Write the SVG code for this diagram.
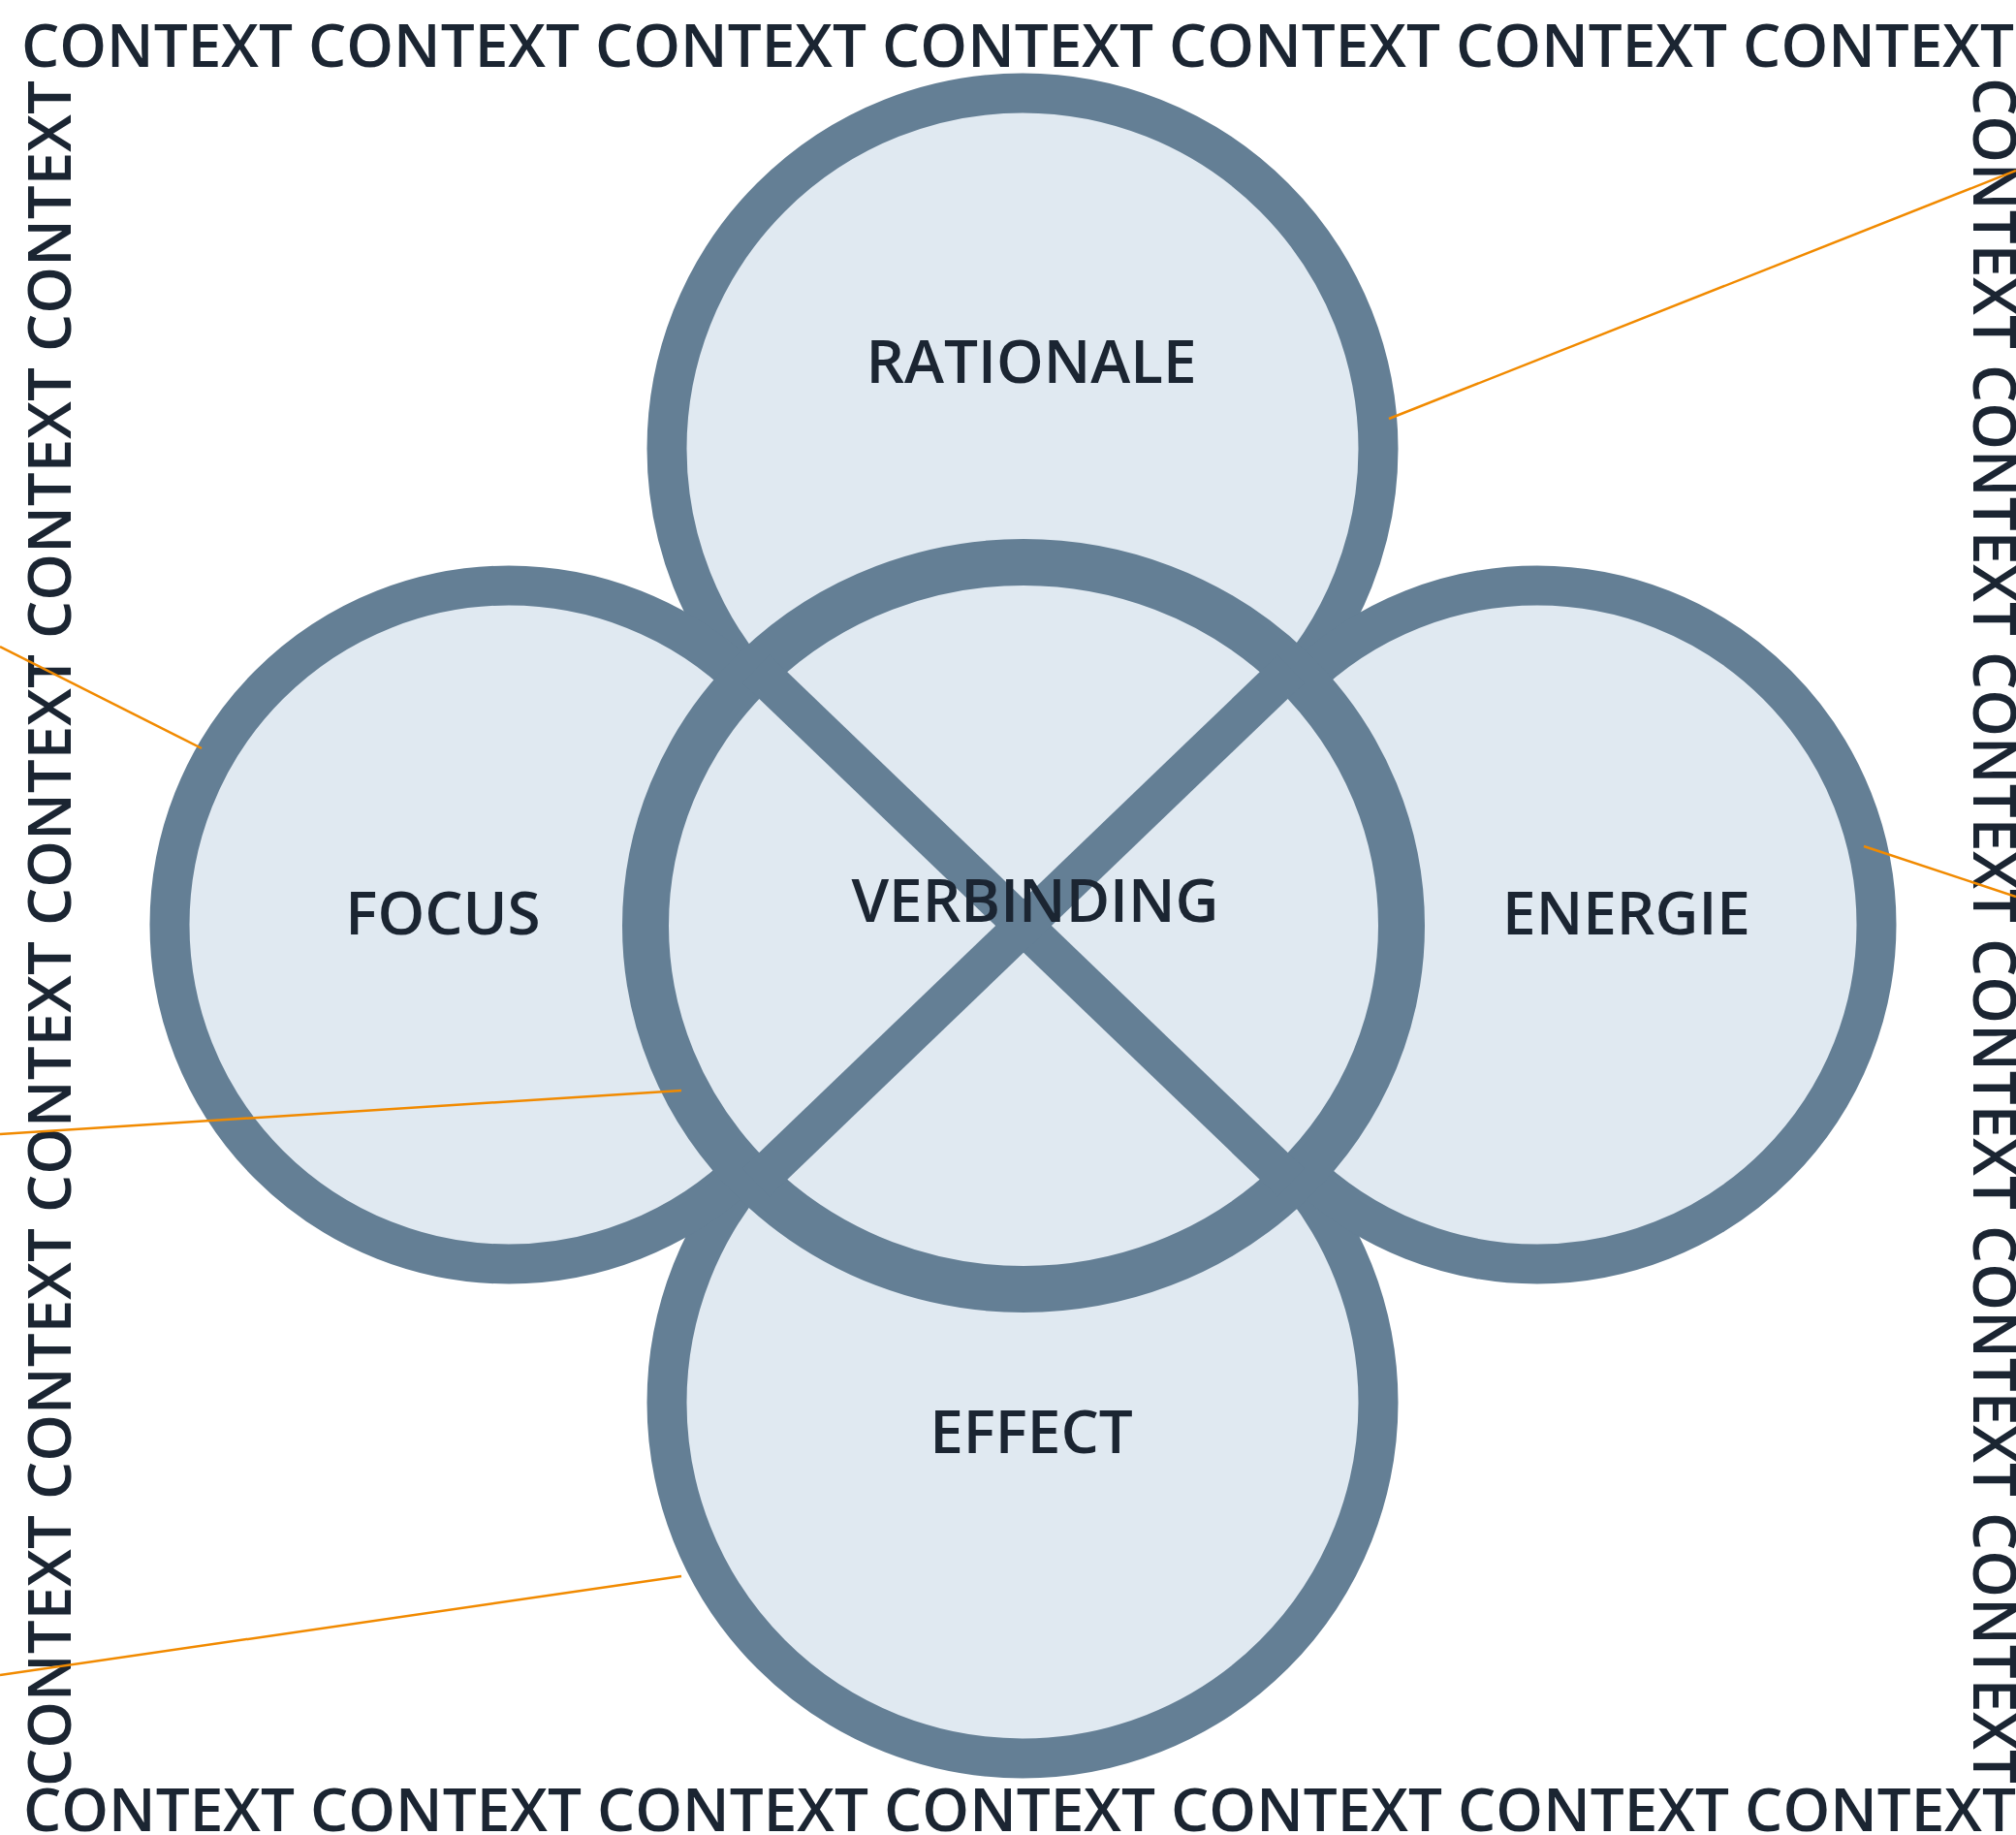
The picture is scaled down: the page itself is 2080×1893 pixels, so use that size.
<svg xmlns="http://www.w3.org/2000/svg" width="2080" height="1893" viewBox="0 0 2080 1893">
<style>
.ring{fill:#e0e9f1;stroke:#647f95;stroke-width:41}
.core{fill:#e0e9f1;stroke:#647f95;stroke-width:48}
.x{stroke:#647f95;stroke-width:40;stroke-linecap:butt;fill:none}
.lbl{font-family:"Open Sans","Noto Sans",sans-serif;font-weight:600;font-size:62px;fill:#1b2532;text-anchor:middle}
.ctx{font-family:"Open Sans","Noto Sans",sans-serif;font-weight:600;font-size:62px;fill:#1b2532}
.ln{stroke:#f18a00;stroke-width:2.5;fill:none}
</style>
<rect width="2080" height="1893" fill="#ffffff"/>
<g id="border">
<text class="ctx" x="22" y="69">CONTEXT CONTEXT CONTEXT CONTEXT CONTEXT CONTEXT CONTEXT</text>
<text class="ctx" x="24" y="1889">CONTEXT CONTEXT CONTEXT CONTEXT CONTEXT CONTEXT CONTEXT</text>
<text class="ctx" transform="translate(73,1843) rotate(-90)">CONTEXT CONTEXT CONTEXT CONTEXT CONTEXT CONTEXT</text>
<text class="ctx" transform="translate(2036,80) rotate(90)">CONTEXT CONTEXT CONTEXT CONTEXT CONTEXT CONTEXT</text>
</g>
<g id="rationale"><circle class="ring" cx="1055" cy="463" r="367"/></g>
<g id="effect"><circle class="ring" cx="1055" cy="1447" r="367"/></g>
<g id="focus"><circle class="ring" cx="525" cy="954" r="350"/></g>
<g id="energie"><circle class="ring" cx="1586" cy="954" r="350"/></g>
<g id="verbinding">
<ellipse class="core" cx="1056" cy="955" rx="390" ry="375"/>
<line class="x" x1="780" y1="690" x2="1332" y2="1220"/>
<line class="x" x1="1332" y1="690" x2="780" y2="1220"/>
</g>
<g id="labels">
<text class="lbl" x="1064" y="395">RATIONALE</text>
<text class="lbl" x="457" y="964">FOCUS</text>
<text class="lbl" x="1068" y="951">VERBINDING</text>
<text class="lbl" x="1678" y="964">ENERGIE</text>
<text class="lbl" x="1064" y="1499">EFFECT</text>
</g>
<g id="connectors">
<line class="ln" x1="1433" y1="432" x2="2080" y2="176"/>
<line class="ln" x1="0" y1="667" x2="208" y2="772"/>
<line class="ln" x1="0" y1="1170" x2="703" y2="1125"/>
<line class="ln" x1="0" y1="1728" x2="703" y2="1626"/>
<line class="ln" x1="1923" y1="873" x2="2080" y2="925"/>
</g>
</svg>
